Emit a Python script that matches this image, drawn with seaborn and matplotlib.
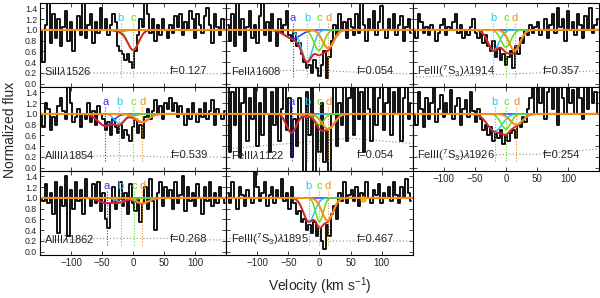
import numpy as np
import pandas as pd
import matplotlib
matplotlib.use("Agg")
import matplotlib.pyplot as plt
import seaborn as sns

sns.set_style("ticks")
plt.rcParams['font.family'] = ['Liberation Sans', 'DejaVu Sans']
plt.rcParams['mathtext.fontset'] = 'custom'
plt.rcParams['mathtext.rm'] = 'Liberation Sans'
plt.rcParams['mathtext.it'] = 'Liberation Sans:italic'

# ---------------- data ----------------
velocity_bins = np.arange(-148, 150, 4)  # km/s bin centres

ion_labels = [r"SiII$\lambda$1526", r"FeII$\lambda$1608", r"FeIII($^7$S$_3$)$\lambda$1914",
              r"AlIII$\lambda$1854", r"FeIII$\lambda$1122", r"FeIII($^7$S$_3$)$\lambda$1926",
              r"AlIII$\lambda$1862", r"FeIII($^7$S$_3$)$\lambda$1895"]
osc_strengths = ["f=0.127", "f=0.054", "f=0.357", "f=0.539", "f=0.054", "f=0.254", "f=0.268", "f=0.467"]

flux_siII1526 = [1.0, 0.4, 1.1, 1.5, 0.75, 1.3, 0.85, 1.2, 0.7, 1.05, 1.35, 0.8, 1.15,
                 0.6, 1.0, 1.25, 0.9, 1.6, 0.85, 1.1, 1.3, 0.75, 1.15, 0.95, 1.4, 1.0,
                 1.2, 0.9, 1.1, 1.3, 1.15, 0.7, 0.6, 0.55, 0.45, 0.55, 0.4, 0.3, 0.6,
                 0.9, 1.2, 1.05, 1.6, 1.3, 0.95, 1.2, 0.8, 1.1, 0.9, 1.2, 1.0, 0.85,
                 1.1, 0.95, 1.25, 1.05, 1.3, 0.9, 1.15, 1.0, 1.35, 1.2, 0.85, 1.3, 1.1,
                 0.95, 1.25, 1.4, 1.1, 0.75, 1.3, 1.05, 0.9, 1.2, 1.0]
flux_feII1608 = [1.1, 0.8, 1.3, 0.7, 1.6, 0.9, 1.2, 0.6, 1.05, 1.35, 0.85, 1.1, 0.75,
                 1.25, 1.6, 0.9, 1.15, 0.8, 1.3, 1.0, 0.7, 1.2, 0.95, 1.1, 1.35, 0.9,
                 0.8, 0.95, 0.7, 0.75, 0.55, 0.4, 0.3, 0.35, 0.2, 0.45, 0.3, 0.15, 0.35,
                 0.6, 0.1, 0.5, 0.8, 1.1, 0.9, 1.3, 1.0, 1.15, 0.85, 1.2, 1.05, 0.9,
                 1.3, 0.95, 1.6, 1.1, 0.8, 1.2, 1.0, 1.35, 0.9, 1.15, 1.45, 1.0, 0.85,
                 1.2, 1.0, 1.3, 0.9, 1.1, 1.25, 0.8, 1.05, 1.2, 0.95]
flux_feIII1914 = [1.0, 0.85, 1.3, 1.15, 0.95, 1.05, 0.9, 1.1, 1.0, 0.8, 0.95, 1.1, 1.2,
                  0.9, 1.05, 1.0, 1.15, 1.3, 0.95, 1.1, 0.85, 1.0, 0.9, 1.05, 1.2, 0.95,
                  0.85, 1.0, 0.75, 0.9, 0.7, 0.6, 0.8, 0.5, 0.65, 0.45, 0.55, 0.35, 0.5,
                  0.6, 0.3, 0.7, 0.55, 0.85, 0.75, 1.0, 0.9, 1.1, 0.95, 1.05, 1.15, 0.9,
                  1.0, 1.2, 0.85, 1.1, 1.3, 0.95, 1.4, 1.05, 1.2, 0.8, 1.35, 1.0, 1.15,
                  0.9, 1.3, 1.1, 0.85, 1.25, 1.0, 1.4, 0.95, 1.1, 1.2]
flux_alIII1854 = [1.0, 0.75, 1.2, 1.1, 0.7, 0.95, 0.8, 1.15, 1.3, 1.05, 0.9, 1.6, 1.2,
                  0.85, 0.95, 1.1, 0.75, 1.0, 0.9, 1.2, 0.85, 1.05, 0.8, 1.15, 1.0, 0.9,
                  0.7, 0.85, 0.6, 0.9, 0.75, 0.65, 0.8, 0.55, 0.7, 0.6, 0.5, 0.75, 0.9,
                  0.65, 0.8, 0.55, 0.95, 1.1, 0.9, 1.05, 1.25, 1.0, 1.15, 0.9, 1.2, 1.1,
                  1.3, 1.05, 1.2, 0.95, 1.15, 1.0, 0.8, 1.1, 0.9, 1.2, 1.0, 0.85, 1.1,
                  0.95, 1.2, 0.9, 1.05, 1.25, 0.8, 1.1, 1.0, 0.9, 1.05]
flux_feIII1122 = [1.8, 0.3, 1.4, 0.8, 1.8, 0.2, 1.2, 1.7, 0.5, 1.3, 0.9, 1.8, 0.4,
                  1.2, 0.6, 1.8, 1.0, 0.3, 1.4, 0.8, 1.8, 0.5, 1.1, 1.7, 0.7, 1.3,
                  0.2, 0.9, 0.4, 1.3, 1.0, -0.1, 1.4, 0.6, 1.8, -0.2, 0.8, 0.3, 1.2,
                  0.1, 0.7, -0.1, 1.0, 1.8, 0.4, 1.2, 0.8, 1.7, 0.5, 1.3, 1.8, 0.6,
                  1.8, 0.9, 1.4, 0.3, 1.8, 1.1, 0.5, 1.7, 0.8, 1.3, 1.8, 0.7, 1.2,
                  1.8, 0.6, 1.4, 1.0, 1.8, 0.5, 1.3, 1.7, 0.9, 1.2]
flux_feIII1926 = [1.0, 0.8, 1.4, 1.1, 0.75, 1.3, 0.9, 1.2, 1.5, 0.85, 1.1, 1.35, 0.95,
                  1.2, 1.0, 1.45, 0.9, 1.15, 1.3, 0.8, 1.1, 1.25, 0.95, 1.4, 1.05, 0.85,
                  1.1, 0.9, 0.7, 0.8, 0.6, 0.75, 0.5, 0.65, 0.55, 0.7, 0.45, 0.6, 0.5,
                  0.65, 0.7, 0.55, 0.8, 0.75, 0.95, 0.85, 1.1, 1.3, 1.6, 1.0, 1.5, 1.2,
                  1.7, 0.9, 1.4, 1.6, 1.1, 1.5, 0.8, 1.7, 1.3, 1.0, 1.6, 1.2, 1.45,
                  1.0, 1.6, 1.3, 0.9, 1.5, 1.1, 1.7, 1.2, 1.4, 1.0]
flux_alIII1862 = [1.0, 0.95, 1.25, 0.9, 1.1, 0.7, 1.3, 0.35, 1.2, 0.85, 1.4, 0.3, 1.15,
                  0.8, 1.3, 0.95, 1.15, 0.7, 1.35, 1.0, 0.85, 1.25, 0.9, 1.3, 0.75, 1.1,
                  0.6, 0.45, 0.9, 1.2, 0.8, 0.95, 1.3, 0.85, 1.1, 0.7, 1.25, 0.9, 0.75,
                  1.0, 0.55, 0.9, 1.2, 0.8, 1.35, 0.95, 0.4, 1.1, 1.3, 0.85, 1.2, 1.0,
                  1.15, 0.8, 1.3, 0.9, 1.05, 1.4, 0.75, 1.2, 0.95, 1.1, 0.85, 1.25, 1.0,
                  0.7, 1.2, 0.95, 1.3, 0.85, 1.1, 0.9, 1.2, 1.0, 0.9]
flux_feIII1895 = [1.1, 0.9, 1.3, 1.0, 0.8, 1.2, 1.05, 0.85, 1.15, 1.0, 0.9, 1.5, 1.2,
                  0.95, 1.1, 1.3, 0.85, 1.05, 1.2, 0.9, 1.15, 1.0, 1.35, 0.95, 1.1, 0.8,
                  1.2, 0.9, 0.7, 0.75, 0.55, 0.6, 0.4, 0.5, 0.35, 0.55, 0.3, 0.45, 0.2,
                  0.05, 0.5, 0.3, 0.7, 0.85, 0.6, 1.1, 0.95, 1.3, 0.9, 1.05, 1.15, 0.95,
                  1.2, 0.85, 1.1, 0.95, 1.3, 1.0, 0.9, 1.15, 1.05, 1.25, 0.9, 1.1, 1.0,
                  1.2, 0.95, 1.3, 1.05, 0.9, 1.2, 1.0, 1.35, 1.1, 0.95]
fluxes = [flux_siII1526, flux_feII1608, flux_feIII1914, flux_alIII1854,
          flux_feIII1122, flux_feIII1926, flux_alIII1862, flux_feIII1895]

# error spectrum knots
error_vel = [-150, -100, -50, 0, 50, 100, 150]
errors = [[0.18, 0.2, 0.2, 0.2, 0.2, 0.19, 0.18],
          [0.2, 0.22, 0.25, 0.25, 0.22, 0.2, 0.18],
          [0.12, 0.14, 0.16, 0.18, 0.2, 0.22, 0.24],
          [0.2, 0.2, 0.22, 0.22, 0.2, 0.2, 0.2],
          [0.35, 0.4, 0.45, 0.5, 0.55, 0.5, 0.45],
          [0.2, 0.2, 0.22, 0.25, 0.25, 0.3, 0.35],
          [0.22, 0.22, 0.25, 0.25, 0.25, 0.22, 0.22],
          [0.25, 0.22, 0.2, 0.2, 0.2, 0.2, 0.2]]

# fit components a, b, c, d: centre velocity, minimum flux, width (km/s)
comp_names = ['a', 'b', 'c', 'd']
comp_colors = ['#3030ff', '#22ccee', '#66dd11', '#f39019']
comp_vel = [[-45, -20, 0, 14], [-43, -20, -1, 14], [-45, -20, 0, 14], [-45, -22, 0, 15],
            [-45, -20, 0, 14], [-45, -18, 0, 17], [-42, -20, 2, 15], [-45, -17, 0, 13]]
comp_min = [[1.0, 0.97, 0.63, 1.0], [0.84, 0.42, 0.62, 0.66], [1.0, 0.62, 0.68, 0.62],
            [0.78, 0.82, 0.97, 0.85], [0.65, 0.95, 0.8, 0.72], [1.0, 0.68, 0.72, 0.8],
            [0.9, 0.93, 0.98, 0.9], [1.0, 0.56, 0.56, 0.58]]
comp_sig = [[8, 8, 9, 8], [13, 9, 8, 9], [10, 9, 8, 9], [12, 8, 8, 10],
            [8, 7, 7, 10], [10, 12, 8, 10], [12, 8, 6, 10], [10, 9, 6, 9]]
shown_labels = [['b', 'c'], ['a', 'b', 'c', 'd'], ['b', 'c', 'd'], ['a', 'b', 'c', 'd'],
                ['a', 'b', 'c', 'd'], ['b', 'c', 'd'], ['a', 'b', 'c', 'd'], ['b', 'c', 'd']]

# ---------------- figure ----------------
W, H = 600, 298
fig = plt.figure(figsize=(6.0, 2.98), dpi=100)
col_left = [40, 226.3, 412.7]
col_w = 186.3
row_top = [3, 87, 171]
row_h = 84
positions = [(0, 0), (0, 1), (0, 2), (1, 0), (1, 1), (1, 2), (2, 0), (2, 1)]
xlabel_panels = {6, 7, 5}

vgrid = np.arange(-150, 150.5, 0.5)

for i, (r, c) in enumerate(positions):
    ax = fig.add_axes([col_left[c] / W, 1 - (row_top[r] + row_h) / H, col_w / W, row_h / H])
    # error
    sns.lineplot(x=error_vel, y=errors[i], ax=ax, color='#888888', lw=0.8,
                 linestyle=(0, (1, 2)), estimator=None, legend=False)
    # spectrum
    sns.lineplot(x=velocity_bins, y=fluxes[i], ax=ax, color='black', lw=1.3,
                 drawstyle='steps-mid', estimator=None, legend=False)
    # components
    profs = []
    for k in range(4):
        p = 1 - (1 - comp_min[i][k]) * np.exp(-(vgrid - comp_vel[i][k]) ** 2 / (2 * comp_sig[i][k] ** 2))
        profs.append(p)
    total = np.prod(profs, axis=0)
    for k in range(3):
        sns.lineplot(x=vgrid, y=profs[k], ax=ax, color=comp_colors[k], lw=1.1,
                     estimator=None, legend=False)
    sns.lineplot(x=vgrid, y=total, ax=ax, color='#dd2222', lw=1.4, estimator=None, legend=False)
    sns.lineplot(x=vgrid, y=profs[3], ax=ax, color=comp_colors[3], lw=1.5,
                 estimator=None, legend=False)
    # labels
    for k, nm in enumerate(comp_names):
        if nm in shown_labels[i]:
            v0 = comp_vel[i][k]
            ax.plot([v0, v0], [0.12, 1.14], color=comp_colors[k], lw=0.8, linestyle=(0, (1, 1.5)))
            ax.text(v0, 1.22, nm, color=comp_colors[k], fontsize=8, ha='center', va='center')
    if i == 7:
        ax.plot([70], [0.98], 'o', color='#ffaa00', ms=3.5)
    ax.text(-143, 0.24, ion_labels[i], fontsize=8, ha='left', va='center')
    ax.text(120, 0.24, osc_strengths[i], fontsize=8, ha='right', va='center')

    ax.set_xlim(-150, 150)
    ax.set_ylim(-0.06, 1.5)
    ax.set_xticks([-100, -50, 0, 50, 100])
    ax.set_yticks([0.0, 0.2, 0.4, 0.6, 0.8, 1.0, 1.2, 1.4])
    ax.tick_params(direction='in', length=3, width=0.6, top=True, right=True,
                   labelsize=6.3, pad=2)
    ax.set_xlabel('')
    ax.set_ylabel('')
    if i not in xlabel_panels:
        ax.set_xticklabels([])
    else:
        ax.set_xticklabels(['\u2212100', '\u221250', '0', '50', '100'], fontsize=7)
    if c != 0:
        ax.set_yticklabels([])
    else:
        ax.set_yticklabels(['0.0', '0.2', '0.4', '0.6', '0.8', '1.0', '1.2', '1.4'])
    for s in ax.spines.values():
        s.set_linewidth(0.8)
        s.set_color('black')

fig.text(10 / W, 0.565, 'Normalized flux', rotation=90, fontsize=10, ha='center', va='center')
fig.text(320 / W, 0.04, r'Velocity (km s$^{-1}$)', fontsize=10, ha='center', va='center')

fig.savefig('out.png', dpi=100)
